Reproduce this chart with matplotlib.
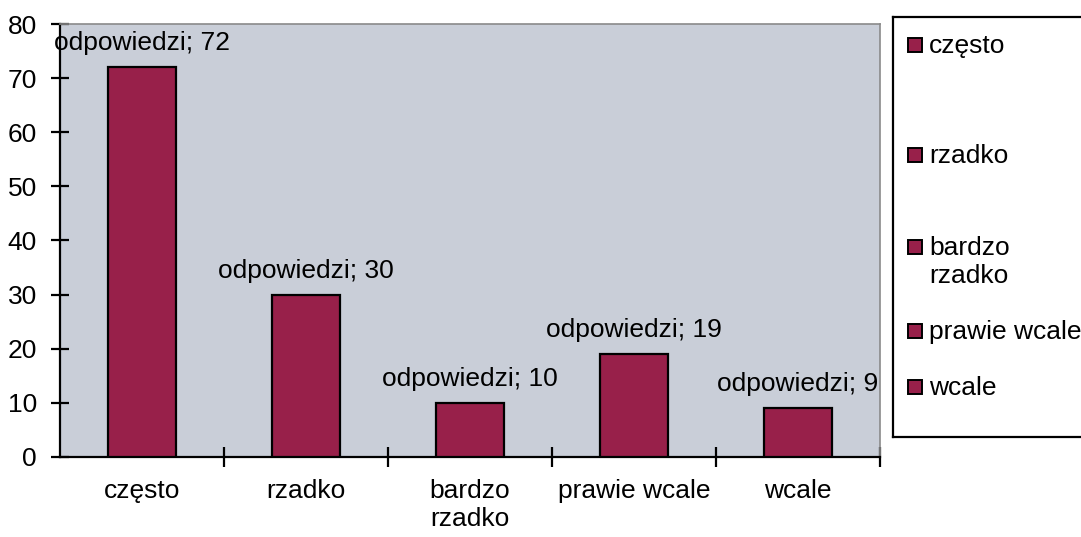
import matplotlib
matplotlib.use("Agg")
import matplotlib.pyplot as plt
from matplotlib.patches import Rectangle
import numpy as np

categories = ["często", "rzadko", "bardzo\nrzadko", "prawie wcale", "wcale"]
values = [72, 30, 10, 19, 9]
series_label = "odpowiedzi"
legend_labels = ["często", "rzadko", "bardzo\nrzadko", "prawie wcale", "wcale"]
y_ticks = [0, 10, 20, 30, 40, 50, 60, 70, 80]

BAR = "#98204a"
BG = "#c9ced8"
FONT = "Liberation Sans"
FS = 19

W, H = 1081, 537
fig = plt.figure(figsize=(W / 100, H / 100), dpi=100)
fig.patch.set_facecolor("white")

ax = fig.add_axes([60 / W, 1 - 457 / H, 820 / W, (457 - 24) / H])
ax.set_facecolor(BG)
x = np.arange(len(categories))
ax.bar(x, values, width=0.41, color=BAR, edgecolor="black", linewidth=1.6, zorder=3)
ax.set_xlim(-0.5, len(categories) - 0.5)
ax.set_ylim(0, 80)
ax.set_yticks(y_ticks)
ax.set_yticklabels([str(t) for t in y_ticks], fontsize=FS, family=FONT)
ax.tick_params(axis="y", direction="inout", length=13, width=1.6, pad=10)

ax.set_xticks(x)
ax.set_xticklabels(categories, fontsize=FS, family=FONT, va="top", linespacing=1.22)
ax.tick_params(axis="x", which="major", length=0, pad=16)
ax.set_xticks(np.arange(0.5, len(categories)), minor=True)
ax.tick_params(axis="x", which="minor", direction="inout", length=15, width=1.6)

for s in ["left", "bottom"]:
    ax.spines[s].set_color("black")
    ax.spines[s].set_linewidth(1.6)
for s in ["top", "right"]:
    ax.spines[s].set_color("#8a8a8a")
    ax.spines[s].set_linewidth(1.2)

for xi, v in zip(x, values):
    ax.annotate(f"{series_label}; {v}", (xi, v), xytext=(0, 8.5), textcoords="offset points",
                ha="center", va="bottom", fontsize=FS, family=FONT, zorder=5,
                annotation_clip=False)

# legend box
lax = fig.add_axes([893 / W, 1 - 437 / H, 200 / W, (437 - 17) / H])
lax.set_xlim(0, 200)
lax.set_ylim(437, 17)
lax.set_xticks([])
lax.set_yticks([])
for s in lax.spines.values():
    s.set_linewidth(1.6)
    s.set_color("black")
entry_y = [45, 155, 247, 331, 387]
for lbl, ey in zip(legend_labels, entry_y):
    lax.add_patch(Rectangle((15, ey - 7), 14, 14, facecolor=BAR, edgecolor="black", linewidth=1.4))
    lax.text(36, ey - 11, lbl, fontsize=FS, family=FONT, va="top", ha="left", linespacing=1.22)

fig.savefig("out.png", dpi=100)
